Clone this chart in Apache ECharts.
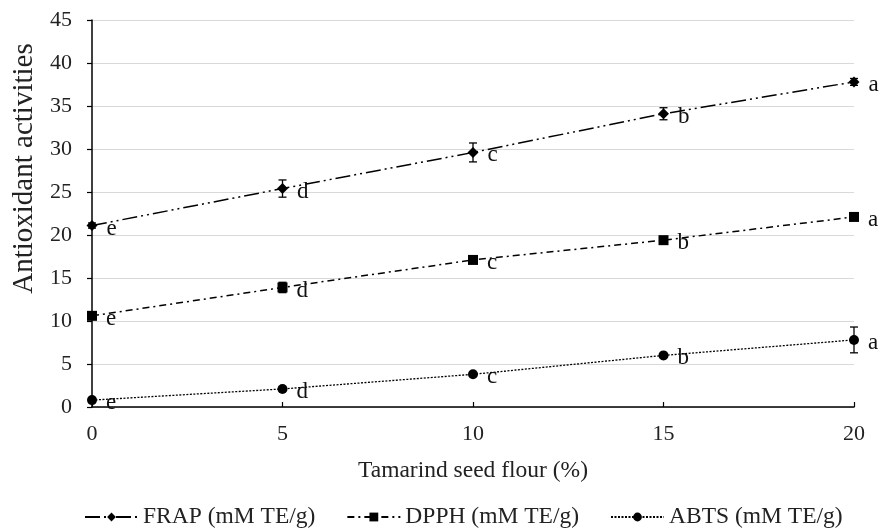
<!DOCTYPE html>
<html><head><meta charset="utf-8">
<script src="https://cdn.jsdelivr.net/npm/echarts@6/dist/echarts.min.js"></script>
<style>html,body{margin:0;padding:0;background:#fff}#c{width:882px;height:530px}</style>
</head><body><div id="c"></div>
<script>
const xValues = [0, 5, 10, 15, 20];
const frap = [21.1, 25.4, 29.6, 34.1, 37.8];
const frapErr = [0.3, 1.0, 1.1, 0.7, 0.4];
const dpph = [10.6, 13.9, 17.1, 19.4, 22.1];
const dpphErr = [0.4, 0.6, 0.3, 0.3, 0.3];
const abts = [0.8, 2.1, 3.8, 6.0, 7.8];
const abtsErr = [0.2, 0.2, 0.2, 0.2, 1.5];
const letters = ['e', 'd', 'c', 'b', 'a'];
const seriesNames = ['FRAP (mM TE/g)', 'DPPH (mM TE/g)', 'ABTS (mM TE/g)'];

const font = 'Liberation Serif';
function pts(vals){ return xValues.map((x,i)=>[x, vals[i]]); }
function errData(vals, errs){ return xValues.map((x,i)=>[x, vals[i]-errs[i], vals[i]+errs[i]]); }
function errSeries(vals, errs){
  return {
    type: 'custom', silent: true, z: 3,
    data: errData(vals, errs),
    renderItem: function(params, api){
      const x = api.value(0);
      const lo = api.coord([x, api.value(1)]);
      const hi = api.coord([x, api.value(2)]);
      const w = 4;
      const st = {stroke: '#000', lineWidth: 1.3};
      return {type: 'group', children: [
        {type:'line', shape:{x1:lo[0],y1:lo[1],x2:hi[0],y2:hi[1]}, style: st},
        {type:'line', shape:{x1:lo[0]-w,y1:lo[1],x2:lo[0]+w,y2:lo[1]}, style: st},
        {type:'line', shape:{x1:hi[0]-w,y1:hi[1],x2:hi[0]+w,y2:hi[1]}, style: st}
      ]};
    }
  };
}
function lineSeries(name, vals, symbol, size, dash, width){
  return {
    name: name, type: 'line', data: pts(vals), symbol: symbol, symbolSize: size,
    z: 4,
    itemStyle: {color: '#000'},
    lineStyle: {color: '#000', width: width, type: dash},
    label: {
      show: true, position: 'right', distance: 9, offset: [0, 3],
      fontFamily: font, fontSize: 23, color: '#111',
      formatter: p => letters[p.dataIndex]
    },
    emphasis: {disabled: true}
  };
}
const chart = echarts.init(document.getElementById('c'), null, {renderer: 'canvas'});
chart.setOption({
  animation: false,
  backgroundColor: '#fff',
  textStyle: {fontFamily: font},
  grid: {left: 92, right: 28, top: 20, bottom: 123, containLabel: false},
  xAxis: {
    type: 'value', min: 0, max: 20, interval: 5,
    name: 'Tamarind seed flour (%)', nameLocation: 'middle', nameGap: 52,
    nameTextStyle: {fontFamily: font, fontSize: 23.5, color: '#222'},
    axisLine: {show: true, lineStyle: {color: '#000', width: 1.5}},
    axisTick: {show: true, inside: true, length: 5, lineStyle: {color: '#000', width: 1.2}},
    axisLabel: {fontFamily: font, fontSize: 22, color: '#222', margin: 16},
    splitLine: {show: false}
  },
  yAxis: {
    type: 'value', min: 0, max: 45, interval: 5,
    name: 'Antioxidant activities', nameLocation: 'middle', nameGap: 52,
    nameTextStyle: {fontFamily: font, fontSize: 29, color: '#222', padding: [0, 0, 0, 90]},
    axisLine: {show: true, lineStyle: {color: '#000', width: 1.5}},
    axisTick: {show: true, length: 5, lineStyle: {color: '#000', width: 1.2}},
    axisLabel: {fontFamily: font, fontSize: 22, color: '#222', margin: 20},
    splitLine: {show: true, lineStyle: {color: '#d9d9d9', width: 1.2}}
  },
  legend: {
    top: 500, left: 79, itemGap: 31, itemWidth: 53, itemHeight: 11,
    textStyle: {fontFamily: font, fontSize: 23.5, color: '#222'},
    data: seriesNames
  },
  series: [
    lineSeries(seriesNames[0], frap, 'diamond', 11, [15, 4, 2, 4, 2, 4], 1.5),
    lineSeries(seriesNames[1], dpph, 'rect', 10, [7, 4, 2, 4], 1.5),
    lineSeries(seriesNames[2], abts, 'circle', 10, [2, 1.5], 1.3),
    errSeries(frap, frapErr),
    errSeries(dpph, dpphErr),
    errSeries(abts, abtsErr)
  ]
});
</script></body></html>
